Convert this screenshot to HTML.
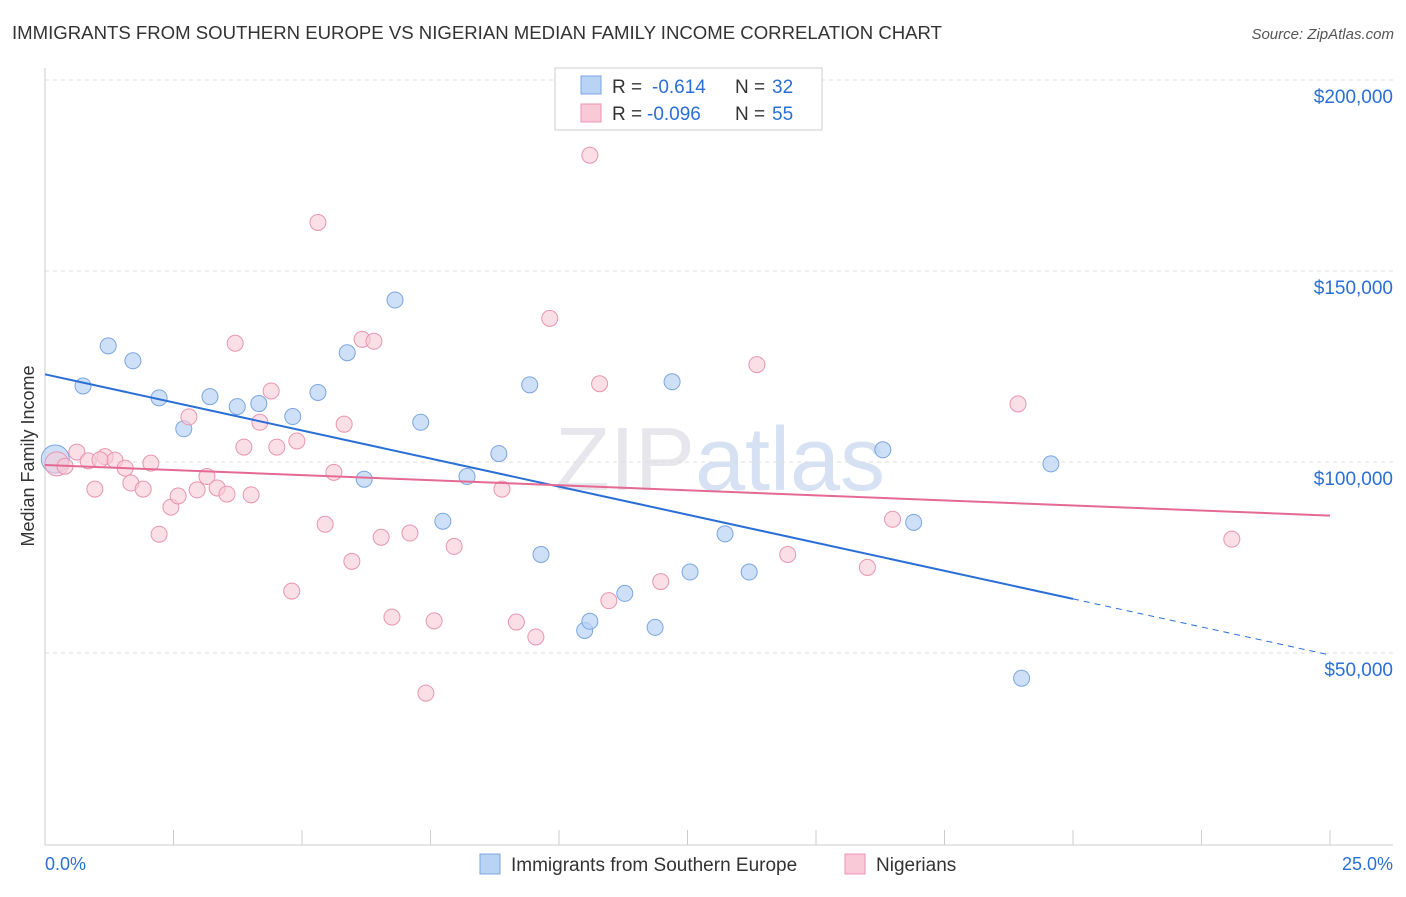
<!DOCTYPE html>
<html><head><meta charset="utf-8"><style>
body{margin:0;background:#fff;font-family:"Liberation Sans",sans-serif;}
svg text{font-family:"Liberation Sans",sans-serif;}
</style></head><body>
<svg id="c" width="1406" height="892">
<text x="12" y="39" font-size="18.6" fill="#333" textLength="930">IMMIGRANTS FROM SOUTHERN EUROPE VS NIGERIAN MEDIAN FAMILY INCOME CORRELATION CHART</text>
<text x="1394" y="39" font-size="15" fill="#555" text-anchor="end" font-style="italic">Source: ZipAtlas.com</text>
<text x="34" y="456" font-size="18" fill="#333" text-anchor="middle" transform="rotate(-90 34 456)">Median Family Income</text>
<text x="720" y="490" font-size="90" fill="#e6e6ec" text-anchor="middle" font-family="Liberation Serif">ZIP<tspan fill="#d6e2f3" font-family="Liberation Sans">atlas</tspan></text>
<g id="grid"></g><g id="axes"></g><g id="pts"></g><g id="lines"></g>
<g>
<rect x="555" y="68" width="267" height="62" fill="#fff" stroke="#ccc"/>
<rect x="581" y="76" width="20" height="18" fill="#b9d3f5" stroke="#7aa6e0"/>
<text x="612" y="93" font-size="19" fill="#333">R =</text>
<text x="652" y="93" font-size="19" fill="#2a6fd6">-0.614</text>
<text x="735" y="93" font-size="19" fill="#333">N =</text>
<text x="772" y="93" font-size="19" fill="#2a6fd6">32</text>
<rect x="581" y="104" width="20" height="18" fill="#f9c9d7" stroke="#e895b0"/>
<text x="612" y="120" font-size="19" fill="#333">R =</text>
<text x="647" y="120" font-size="19" fill="#2a6fd6">-0.096</text>
<text x="735" y="120" font-size="19" fill="#333">N =</text>
<text x="772" y="120" font-size="19" fill="#2a6fd6">55</text>
</g>
<g>
<rect x="480" y="854" width="20" height="20" fill="#b9d3f5" stroke="#7aa6e0"/>
<text x="511" y="871" font-size="19" fill="#333">Immigrants from Southern Europe</text>
<rect x="845" y="854" width="20" height="20" fill="#f9c9d7" stroke="#e895b0"/>
<text x="876" y="871" font-size="19" fill="#333">Nigerians</text>
</g>
<text x="45" y="870" font-size="18" fill="#2a6fd6">0.0%</text>
<text x="1393" y="870" font-size="18" fill="#2a6fd6" text-anchor="end">25.0%</text>
</svg>
<script>
const yTicks=[50000,100000,150000,200000];
const yTickLabels=["$50,000","$100,000","$150,000","$200,000"];
const blueX=[0.2,0.74,1.23,1.71,2.22,2.7,3.21,3.74,4.16,4.82,5.31,5.88,6.21,6.81,7.31,7.74,8.21,8.83,9.43,9.65,10.5,10.6,11.28,11.87,12.2,12.55,13.23,13.7,16.3,16.9,19.0,19.57];
const blueY=[100800,119900,130400,126500,116800,108700,117100,114500,115300,111900,118200,128600,95500,142400,110400,84500,96200,102200,120200,75800,55900,58300,65600,56700,121000,71200,81200,71200,103200,84200,43400,99500];
const pinkX=[0.23,0.39,0.62,0.84,0.97,1.17,1.36,1.56,1.67,1.91,2.06,2.22,2.45,2.59,2.8,2.96,3.15,3.35,3.54,3.7,3.87,4.01,4.4,4.51,4.18,4.8,4.9,5.31,5.45,5.62,5.82,5.97,6.17,6.4,6.54,6.75,7.1,7.41,7.57,7.96,8.89,9.17,9.55,9.82,10.6,10.79,10.97,11.98,13.85,14.45,16.0,16.49,18.93,23.09,1.07];
const pinkY=[99500,98900,102600,100300,92900,101400,100500,98400,94500,92900,99700,81100,88200,91100,111800,92700,96200,93200,91600,131100,103900,91400,118600,103900,110400,66200,105500,162700,83700,97300,109900,74000,132100,131600,80300,59400,81400,39500,58400,77900,92900,58100,54200,137600,180300,120500,63700,68700,125500,75800,72400,85000,115200,79800,100600];
const X=v=>45+v/25*1285, Y=v=>80+(200000-v)*191/50000;
const NS="http://www.w3.org/2000/svg";
function mk(t,a,p){const e=document.createElementNS(NS,t);for(const k in a)e.setAttribute(k,a[k]);document.getElementById(p).appendChild(e);return e;}
yTicks.forEach((t,i)=>{
 const g=mk("line",{x1:45,x2:1393,y1:Y(t),y2:Y(t),stroke:"#ddd","stroke-dasharray":"4,4"},"grid");
 
 
 const l=mk("text",{x:1393,y:Y(t)+23,"font-size":19,fill:"#2a6fd6","text-anchor":"end"},"axes");
 l.textContent=yTickLabels[i];
 
 
});
mk("line",{x1:45,x2:1393,y1:845,y2:845,stroke:"#ccc"},"axes");
mk("line",{x1:45,x2:45,y1:68,y2:845,stroke:"#ccc"},"axes");
for(let i=1;i<=10;i++){const t=mk("line",{x1:X(i*2.5),x2:X(i*2.5),y1:830,y2:845,stroke:"#ccc"},"axes");
 
 }
blueX.forEach((x,i)=>{const c=mk("circle",{cx:X(x),cy:Y(blueY[i]),r:i==0?14:8,fill:"#b9d3f5","fill-opacity":0.7,stroke:"#7aa6e0"},"pts");
 
 });
pinkX.forEach((x,i)=>{const c=mk("circle",{cx:X(x),cy:Y(pinkY[i]),r:i==0?12:8,fill:"#f9c9d7","fill-opacity":0.6,stroke:"#e895b0"},"pts");
 
 });
function fit(xs,ys){const n=xs.length,mx=xs.reduce((a,b)=>a+b)/n,my=ys.reduce((a,b)=>a+b)/n;let s=0,q=0;xs.forEach((x,i)=>{s+=(x-mx)*(ys[i]-my);q+=(x-mx)**2});const b=s/q;return[my-b*mx,b];}
const [ba,bb]=fit(blueX,blueY), [pa,pb]=fit(pinkX,pinkY);
let l=mk("line",{x1:X(0),y1:Y(ba),x2:X(20),y2:Y(ba+bb*20),stroke:"#2a6fd6","stroke-width":2},"lines");


l=mk("line",{x1:X(20),y1:Y(ba+bb*20),x2:X(25),y2:Y(ba+bb*25),stroke:"#2a6fd6","stroke-width":1,"stroke-dasharray":"6,5"},"lines");


l=mk("line",{x1:X(0),y1:Y(pa),x2:X(25),y2:Y(pa+pb*25),stroke:"#e46a93","stroke-width":2},"lines");


</script>
</body></html>
